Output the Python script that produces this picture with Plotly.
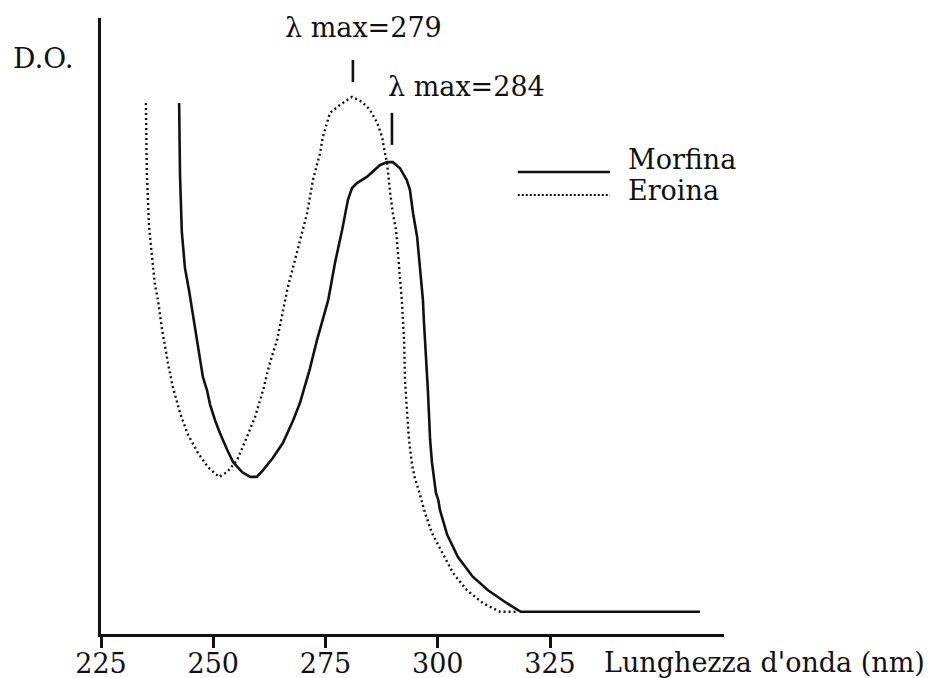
import plotly.graph_objects as go

# Wavelength (nm) and optical density (arbitrary units)
morfina_nm = [242.4, 242.6, 243.0, 243.7, 244.6, 245.5, 246.4, 247.0, 247.7, 248.6,
              249.3, 250.4, 251.5, 253.1, 254.4, 256.4, 258.2, 259.7, 261.1, 263.3,
              265.5, 267.8, 269.3, 271.5, 273.1, 275.6, 277.1, 278.7, 280.0, 280.9,
              282.0, 284.2, 287.1, 288.7, 290.0, 291.6, 293.1, 293.8, 294.5, 295.4,
              296.0, 296.7, 296.9, 297.4, 297.8, 298.0, 298.3, 298.7, 299.2, 299.6,
              300.1, 300.5, 302.1, 304.5, 307.8, 311.2, 315.4, 318.5, 358.4]
morfina_od = [0.862, 0.744, 0.653, 0.594, 0.558, 0.515, 0.477, 0.448, 0.417, 0.396,
              0.372, 0.347, 0.326, 0.299, 0.279, 0.263, 0.255, 0.255, 0.266, 0.286,
              0.310, 0.347, 0.375, 0.430, 0.477, 0.542, 0.602, 0.656, 0.705, 0.724,
              0.732, 0.742, 0.761, 0.766, 0.766, 0.756, 0.737, 0.721, 0.683, 0.645,
              0.596, 0.542, 0.510, 0.453, 0.396, 0.364, 0.315, 0.279, 0.250, 0.229,
              0.218, 0.201, 0.161, 0.125, 0.093, 0.071, 0.050, 0.036, 0.036]

eroina_nm = [235.0, 235.2, 235.7, 236.4, 237.0, 237.7, 238.6, 239.3, 239.9, 241.0,
             242.6, 244.4, 246.6, 248.8, 251.3, 253.1, 255.3, 257.5, 259.3, 261.1,
             262.6, 264.2, 265.5, 266.6, 267.8, 269.3, 270.9, 272.2, 273.8, 274.4,
             276.0, 278.2, 280.9, 283.1, 284.9, 286.5, 287.6, 288.2, 288.7, 289.4,
             290.0, 290.7, 291.1, 292.0, 292.5, 292.7, 293.2, 293.6, 294.3, 294.9,
             295.6, 296.0, 297.2, 298.7, 301.0, 303.4, 306.5, 310.1, 313.9, 317.9]
eroina_od = [0.862, 0.750, 0.661, 0.604, 0.567, 0.542, 0.494, 0.466, 0.440, 0.401,
             0.359, 0.323, 0.294, 0.271, 0.255, 0.263, 0.282, 0.320, 0.352, 0.396,
             0.440, 0.477, 0.521, 0.563, 0.596, 0.640, 0.683, 0.737, 0.781, 0.807,
             0.846, 0.859, 0.872, 0.864, 0.851, 0.830, 0.807, 0.782, 0.765, 0.716,
             0.683, 0.656, 0.619, 0.542, 0.477, 0.412, 0.356, 0.315, 0.274, 0.253,
             0.237, 0.226, 0.196, 0.164, 0.131, 0.099, 0.071, 0.050, 0.036, 0.036]

x_ticks = [225, 250, 275, 300, 325]
series_names = ["Morfina", "Eroina"]
peak_labels = ["λ max=279", "λ max=284"]
peak_marks_nm = [281.1, 289.8]

INK = "#111111"
FONT = "DejaVu Serif"

fig = go.Figure()
fig.add_trace(go.Scatter(x=eroina_nm, y=eroina_od, mode="lines", name=series_names[1],
                         line=dict(color=INK, width=2.4, dash="2px,3px"), showlegend=False))
fig.add_trace(go.Scatter(x=morfina_nm, y=morfina_od, mode="lines", name=series_names[0],
                         line=dict(color=INK, width=2.6), showlegend=False))

# peak markers
fig.add_shape(type="line", x0=peak_marks_nm[0], x1=peak_marks_nm[0], y0=0.896, y1=0.932,
              xref="x", yref="y", line=dict(color=INK, width=2.6))
fig.add_shape(type="line", x0=peak_marks_nm[1], x1=peak_marks_nm[1], y0=0.794, y1=0.846,
              xref="x", yref="y", line=dict(color=INK, width=2.6))
fig.add_annotation(x=283.5, y=0.984, xref="x", yref="y", text=peak_labels[0], showarrow=False,
                   xanchor="center", yanchor="middle", font=dict(family=FONT, size=27, color=INK))
fig.add_annotation(x=306.4, y=0.888, xref="x", yref="y", text=peak_labels[1], showarrow=False,
                   xanchor="center", yanchor="middle", font=dict(family=FONT, size=27, color=INK))

# legend (drawn manually)
fig.add_shape(type="line", x0=0.669, x1=0.817, y0=0.750, y1=0.750, xref="paper", yref="paper",
              line=dict(color=INK, width=2.6))
fig.add_shape(type="line", x0=0.669, x1=0.817, y0=0.7127, y1=0.7127, xref="paper", yref="paper",
              line=dict(color=INK, width=2.2, dash="2px,2px"))
fig.add_annotation(x=0.843, y=0.7695, xref="paper", yref="paper", text=series_names[0], showarrow=False,
                   xanchor="left", yanchor="middle", font=dict(family=FONT, size=27, color=INK))
fig.add_annotation(x=0.843, y=0.7195, xref="paper", yref="paper", text=series_names[1], showarrow=False,
                   xanchor="left", yanchor="middle", font=dict(family=FONT, size=27, color=INK))

# axis titles
fig.add_annotation(x=-0.1445, y=0.935, xref="paper", yref="paper", text="D.O.", showarrow=False,
                   xanchor="left", yanchor="middle", font=dict(family=FONT, size=28, color=INK))
fig.add_annotation(x=0.804, y=-0.047, xref="paper", yref="paper", text="Lunghezza d'onda (nm)",
                   showarrow=False, xanchor="left", yanchor="middle",
                   font=dict(family=FONT, size=27, color=INK))

fig.update_layout(
    width=941, height=678,
    margin=dict(l=101, r=217, t=18, b=44),
    paper_bgcolor="white", plot_bgcolor="white",
    template="none",
    showlegend=False,
)
fig.update_xaxes(range=[225, 363.75], tickmode="array", tickvals=x_ticks,
                 ticktext=[str(v) for v in x_ticks],
                 showline=True, linecolor=INK, linewidth=3, ticks="outside", ticklen=11,
                 tickwidth=2.5, tickcolor=INK, showgrid=False, zeroline=False, automargin=False,
                 ticklabelstandoff=-7,
                 tickfont=dict(family=FONT, size=27, color=INK))
fig.update_yaxes(range=[0, 1], showline=True, linecolor=INK, linewidth=3, ticks="",
                 showticklabels=False, showgrid=False, zeroline=False, automargin=False)

# remove the browser's default 8px page margin so the figure fills the window exactly
fig.write_html("out.html", config={"displayModeBar": False},
               post_script="document.body.style.margin='0';document.body.style.overflow='hidden';")
